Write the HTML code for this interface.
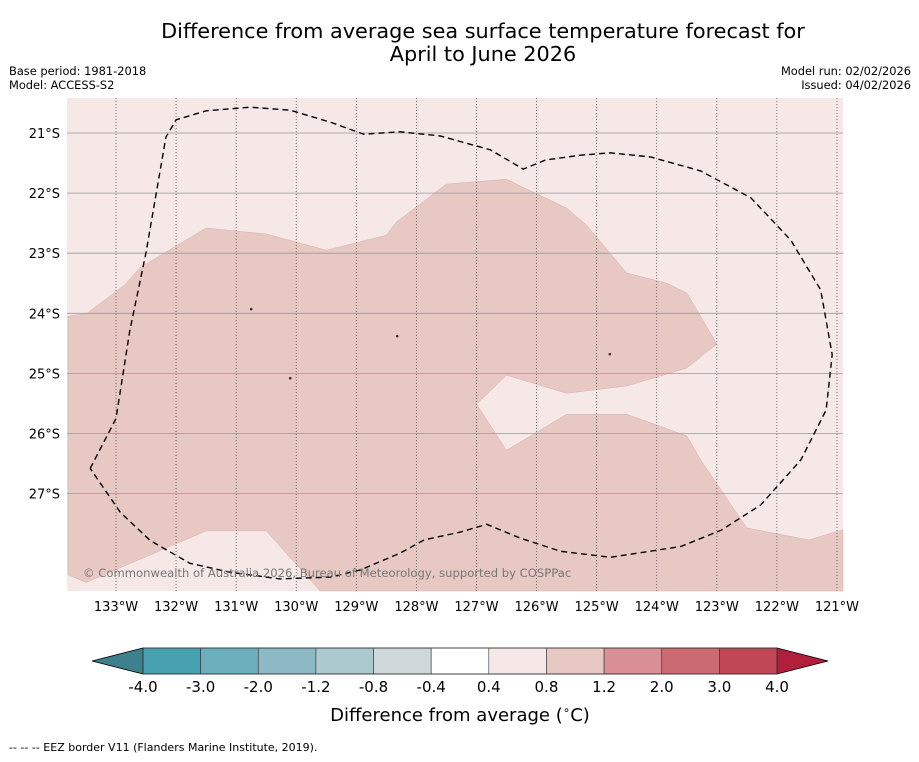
<!DOCTYPE html>
<html><head><meta charset="utf-8"><style>
body{margin:0;background:#fff;font-family:"DejaVu Sans","Liberation Sans",sans-serif;}
svg text{font-family:"DejaVu Sans","Liberation Sans",sans-serif;}
</style></head><body>
<svg id="chart" width="919" height="758" viewBox="0 0 919 758" xmlns="http://www.w3.org/2000/svg">
<text x="483" y="38" font-size="20.8" text-anchor="middle">Difference from average sea surface temperature forecast for</text>
<text x="483" y="61" font-size="20.8" text-anchor="middle">April to June 2026</text>
<text x="9" y="75" font-size="11.4">Base period: 1981-2018</text>
<text x="9" y="89" font-size="11.4">Model: ACCESS-S2</text>
<text x="911" y="75" font-size="11.4" text-anchor="end">Model run: 02/02/2026</text>
<text x="911" y="89" font-size="11.4" text-anchor="end">Issued: 04/02/2026</text>
<g id="map"></g>
<g id="cbar"></g>
<text x="460" y="721" font-size="18" text-anchor="middle">Difference from average (<tspan font-size="12" dy="-7">∘</tspan><tspan dy="7">C)</tspan></text>
<text x="9" y="751" font-size="11">--  --  -- EEZ border V11 (Flanders Marine Institute, 2019).</text>
</svg>
<script>
// data
const lonTicks=[-133,-132,-131,-130,-129,-128,-127,-126,-125,-124,-123,-122,-121];
const latTicks=[-21,-22,-23,-24,-25,-26,-27];
const anomalyRegion=[[-133.8,-24.05],[-133.48,-24.0],[-132.85,-23.52],[-132.6,-23.24],[-131.5,-22.58],[-130.5,-22.68],[-129.5,-22.95],[-128.5,-22.7],[-128.33,-22.48],[-127.5,-21.85],[-126.5,-21.77],[-125.5,-22.25],[-125.17,-22.53],[-124.5,-23.33],[-123.83,-23.5],[-123.5,-23.66],[-123.0,-24.51],[-123.5,-24.91],[-124.5,-25.21],[-125.5,-25.33],[-126.5,-25.03],[-127.0,-25.51],[-126.5,-26.28],[-125.5,-25.68],[-124.5,-25.68],[-123.5,-26.04],[-123.27,-26.44],[-122.5,-27.57],[-121.47,-27.77],[-120.9,-27.6],[-120.9,-28.62],[-129.6,-28.62],[-130.5,-27.62],[-131.5,-27.62],[-133.5,-28.48],[-133.8,-28.35]];
const eezBorder=[[-133.43,-26.58],[-133.0,-25.75],[-132.77,-24.29],[-132.5,-22.99],[-132.17,-21.07],[-132.0,-20.78],[-131.5,-20.63],[-130.77,-20.57],[-130.1,-20.62],[-129.43,-20.82],[-128.88,-21.02],[-128.27,-20.98],[-127.6,-21.05],[-126.77,-21.28],[-126.22,-21.6],[-125.85,-21.45],[-125.27,-21.37],[-124.77,-21.33],[-124.1,-21.4],[-123.27,-21.63],[-122.43,-22.08],[-121.77,-22.78],[-121.27,-23.61],[-121.08,-24.69],[-121.18,-25.61],[-121.6,-26.44],[-122.27,-27.19],[-122.93,-27.61],[-123.6,-27.88],[-124.77,-28.06],[-125.6,-27.96],[-126.27,-27.74],[-126.83,-27.51],[-127.27,-27.64],[-127.87,-27.77],[-128.27,-27.99],[-128.93,-28.27],[-129.43,-28.39],[-130.27,-28.42],[-131.1,-28.31],[-131.77,-28.16],[-132.43,-27.78],[-132.93,-27.31],[-133.43,-26.58]];
const islands=[[-128.32,-24.38],[-130.75,-23.93],[-130.1,-25.08],[-124.78,-24.68]];
const cbarLabels=["-4.0","-3.0","-2.0","-1.2","-0.8","-0.4","0.4","0.8","1.2","2.0","3.0","4.0"];
const cbarColors=["#48a1b0","#6caebb","#8cb9c4","#abc9ce","#cfd8da","#ffffff","#f5e8e7","#e7c8c3","#d98f95","#cc6a73","#c04756"];
const NS="http://www.w3.org/2000/svg";
const X=lon=>116+(lon+133)*60.08;
const Y=lat=>133+(-lat-21)*60.1;
function mk(tag,attrs,parent){const e=document.createElementNS(NS,tag);for(const k in attrs)e.setAttribute(k,attrs[k]);parent.appendChild(e);return e;}
const map=document.getElementById('map');
const bg=mk('rect',{x:67,y:98,width:776,height:493,fill:'#f5e8e7'},map);


const reg=mk('polygon',{points:anomalyRegion.map(p=>X(p[0]).toFixed(1)+','+Y(p[1]).toFixed(1)).join(' '),fill:'#e7c8c3',stroke:'#d8b0aa','stroke-width':0.5},map);


lonTicks.forEach(l=>{
 const ln=mk('line',{x1:X(l),x2:X(l),y1:98,y2:591,stroke:'#555','stroke-width':0.8,'stroke-dasharray':'1,2'},map);
 
 
 const t=mk('text',{x:X(l),y:611,'font-size':13,'text-anchor':'middle'},map);
 t.textContent=Math.abs(l)+'°W';
 
 
});
latTicks.forEach(l=>{
 const ln=mk('line',{x1:67,x2:843,y1:Y(l),y2:Y(l),stroke:'#999','stroke-width':0.8},map);
 
 
 const t=mk('text',{x:60,y:Y(l)+5,'font-size':13,'text-anchor':'end'},map);
 t.textContent=Math.abs(l)+'°S';
 
 
});
islands.forEach(p=>{
 const c=mk('circle',{cx:X(p[0]),cy:Y(p[1]),r:1.3,fill:'#333'},map);
 
 
});
const eez=mk('polyline',{points:eezBorder.map(p=>X(p[0]).toFixed(1)+','+Y(p[1]).toFixed(1)).join(' '),fill:'none',stroke:'#000','stroke-width':1.4,'stroke-dasharray':'6,4'},map);


const cp=mk('text',{x:83,y:577,'font-size':11.6,fill:'#777'},map);
cp.textContent='© Commonwealth of Australia 2026, Bureau of Meteorology, supported by COSPPac';


// colorbar
const cb=document.getElementById('cbar');
const x0=143,x1=777,y0=648,y1=674,w=(x1-x0)/cbarColors.length;
const lt=mk('polygon',{points:`${x0},${y0} ${x0},${y1} 92,661`,fill:'#3c818d',stroke:'#000','stroke-width':0.8},cb);


const rt=mk('polygon',{points:`${x1},${y0} ${x1},${y1} 828,661`,fill:'#b01f3b',stroke:'#000','stroke-width':0.8},cb);


cbarColors.forEach((c,i)=>{
 const r=mk('rect',{x:x0+i*w,y:y0,width:w,height:y1-y0,fill:c,stroke:'#333','stroke-width':0.6},cb);
 
 
});
mk('rect',{x:x0,y:y0,width:x1-x0,height:y1-y0,fill:'none',stroke:'#333','stroke-width':0.8},cb);
cbarLabels.forEach((s,i)=>{
 const t=mk('text',{x:x0+i*w,y:692,'font-size':15,'text-anchor':'middle'},cb);
 t.textContent=s;
 
 
});
</script>
</body></html>
